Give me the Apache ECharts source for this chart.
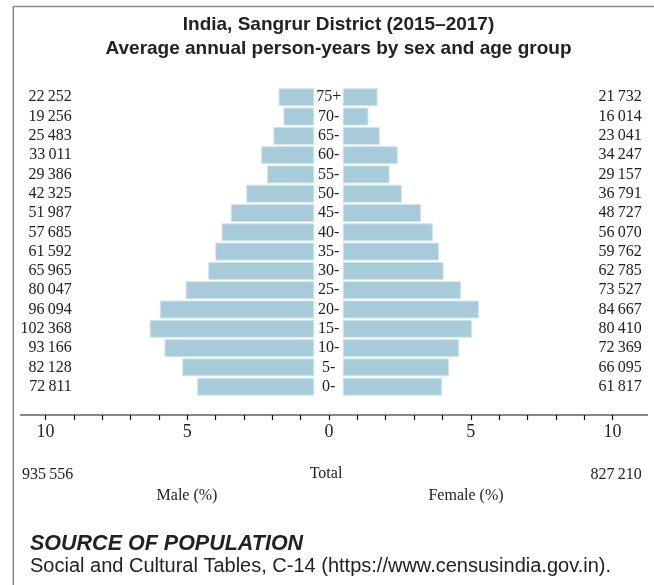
<!DOCTYPE html>
<html>
<head>
<meta charset="utf-8">
<title>India, Sangrur District</title>
<script src="https://cdn.jsdelivr.net/npm/echarts@6/dist/echarts.min.js"></script>
<style>
	html, body { margin: 0; padding: 0; background: #fff; }
	#main { width: 654px; height: 585px; }
</style>
</head>
<body>
<div id="main"></div>
<script>
//年龄组，从下往上
var ages = ['0-', '5-', '10-', '15-', '20-', '25-', '30-', '35-', '40-', '45-', '50-', '55-', '60-', '65-', '70-', '75+'];
var maleCounts = [72811, 82128, 93166, 102368, 96094, 80047, 65965, 61592, 57685, 51987, 42325, 29386, 33011, 25483, 19256, 22252];
var femaleCounts = [61817, 66095, 72369, 80410, 84667, 73527, 62785, 59762, 56070, 48727, 36791, 29157, 34247, 23041, 16014, 21732];
var maleTotal = 935556;
var femaleTotal = 827210;
var axisTicks = [-10, -5, 0, 5, 10];

var serif = '"Liberation Serif", serif';
var sans = '"Liberation Sans", Arial, sans-serif';

function fmt(n) {
	return String(n).replace(/\B(?=(\d{3})+(?!\d))/g, '\u2009');
}

//百分比 = 人数 / 总人数
var all = maleTotal + femaleTotal;
var malePct = maleCounts.map(function(v) { return v / all * 100; });
var femalePct = femaleCounts.map(function(v) { return v / all * 100; });

var myChart = echarts.init(document.getElementById('main'));
var option = {
	animation: false,
	title: [{
		text: 'India, Sangrur District (2015\u20132017)',
		left: 333.5,
		textAlign: 'center',
		top: 10,
		textStyle: { fontFamily: sans, fontSize: 19, fontWeight: 'bold', color: '#222' }
	}, {
		text: 'Average annual person-years by sex and age group',
		left: 333.5,
		textAlign: 'center',
		top: 34,
		textStyle: { fontFamily: sans, fontSize: 19, fontWeight: 'bold', color: '#222' }
	}],
	grid: [
		{ left: 30.8, width: 283.5, top: 87.6, height: 308.7 },
		{ left: 342.7, width: 283.5, top: 87.6, height: 308.7 },
		{ left: 45.5, width: 567, top: 414, height: 1 }
	],
	xAxis: [
		{ gridIndex: 0, type: 'value', min: 0, max: 10, inverse: true, show: false },
		{ gridIndex: 1, type: 'value', min: 0, max: 10, show: false },
		{
			gridIndex: 2, type: 'value', min: -10, max: 10, interval: 1,
			axisLine: { show: false },
			axisTick: { show: true, length: 5, lineStyle: { color: '#111', width: 1.2 } },
			splitLine: { show: false },
			axisLabel: {
				margin: 8,
				fontFamily: serif, fontSize: 18, color: '#222',
				formatter: function(v) {
					return axisTicks.indexOf(v) >= 0 ? String(Math.abs(v)) : '';
				}
			}
		}
	],
	yAxis: [
		{
			gridIndex: 0, type: 'category', data: ages, position: 'right',
			axisLine: { show: false }, axisTick: { show: false },
			axisLabel: { interval: 0, align: 'center', margin: 14.4, fontFamily: serif, fontSize: 16, color: '#222' }
		},
		{
			gridIndex: 0, type: 'category', data: ages, position: 'left', offset: -45,
			axisLine: { show: false }, axisTick: { show: false },
			axisLabel: {
				interval: 0, align: 'right', margin: 4, fontFamily: serif, fontSize: 16, color: '#222',
				formatter: function(v, i) { return fmt(maleCounts[i]); }
			}
		},
		{
			gridIndex: 1, type: 'category', data: ages, position: 'right',
			axisLine: { show: false }, axisTick: { show: false },
			axisLabel: {
				interval: 0, align: 'right', margin: 15.5, fontFamily: serif, fontSize: 16, color: '#222',
				formatter: function(v, i) { return fmt(femaleCounts[i]); }
			}
		},
		{ gridIndex: 2, type: 'value', show: false }
	],
	series: [{
		name: 'Male',
		type: 'bar',
		xAxisIndex: 0,
		yAxisIndex: 0,
		barWidth: 18,
		data: malePct,
		itemStyle: { color: '#a7cbd8', borderColor: '#d3e6ed', borderWidth: 1 }
	}, {
		name: 'Female',
		type: 'bar',
		xAxisIndex: 1,
		yAxisIndex: 2,
		barWidth: 18,
		data: femalePct,
		itemStyle: { color: '#a7cbd8', borderColor: '#d3e6ed', borderWidth: 1 }
	}],
	graphic: [
		//边框
		{ type: 'line', shape: { x1: 13.3, y1: 6.5, x2: 654, y2: 6.5 }, style: { stroke: '#8a8a8a', lineWidth: 1.5 } },
		{ type: 'line', shape: { x1: 13.3, y1: 6.5, x2: 13.3, y2: 585 }, style: { stroke: '#8a8a8a', lineWidth: 1.5 } },
		//横轴线
		{ type: 'line', shape: { x1: 20, y1: 415, x2: 648, y2: 415 }, style: { stroke: '#111', lineWidth: 1.2 } },
		{ type: 'text', x: 22, y: 475, style: { text: fmt(maleTotal), font: '16px ' + serif, fill: '#222', textAlign: 'left', textVerticalAlign: 'middle' } },
		{ type: 'text', x: 326, y: 474, style: { text: 'Total', font: '16px ' + serif, fill: '#222', textAlign: 'center', textVerticalAlign: 'middle' } },
		{ type: 'text', x: 641.7, y: 475, style: { text: fmt(femaleTotal), font: '16px ' + serif, fill: '#222', textAlign: 'right', textVerticalAlign: 'middle' } },
		{ type: 'text', x: 187, y: 496, style: { text: 'Male (%)', font: '16px ' + serif, fill: '#222', textAlign: 'center', textVerticalAlign: 'middle' } },
		{ type: 'text', x: 466, y: 496, style: { text: 'Female (%)', font: '16px ' + serif, fill: '#222', textAlign: 'center', textVerticalAlign: 'middle' } },
		//数据来源
		{ type: 'text', x: 30, y: 544, style: { text: 'SOURCE OF POPULATION', font: 'italic bold 21.5px ' + sans, fill: '#222', textAlign: 'left', textVerticalAlign: 'middle' } },
		{ type: 'text', x: 30, y: 566, style: { text: 'Social and Cultural Tables, C-14 (https://www.censusindia.gov.in).', font: '20px ' + sans, fill: '#222', textAlign: 'left', textVerticalAlign: 'middle' } }
	]
};
myChart.setOption(option);
</script>
</body>
</html>
